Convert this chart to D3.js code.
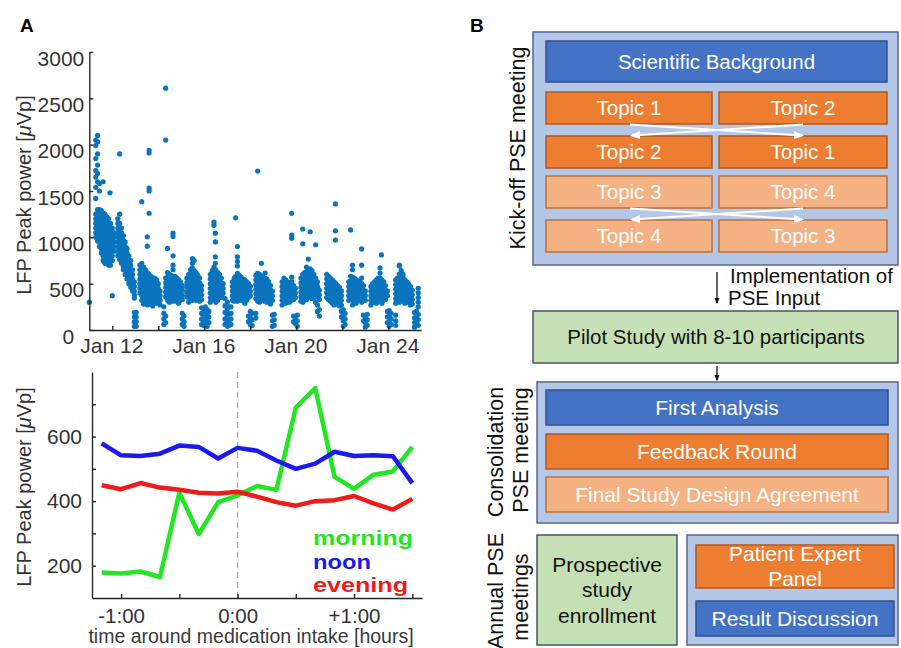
<!DOCTYPE html>
<html><head><meta charset="utf-8">
<script src="https://cdn.jsdelivr.net/npm/d3@7"></script>
<style>
body{margin:0;background:#fff}
svg{display:block}
text{font-family:"Liberation Sans",Arial,Helvetica,sans-serif}
</style>
</head><body>
<svg id="fig" width="901" height="648"></svg>
<script>
// ---------------- Panel A (top): LFP peak power per day, columns [day, values] ----------------
const jan11 = [
 [11.00, [300]],
 [11.28, [2050, 1990, 1850, 1720, 1650, 1540, 1420, 1250, 1200, 1150, 1100, 1050, 1000]],
 [11.36, [2100, 2030, 1900, 1780, 1690, 1600, 1300, 1260, 1210, 1160, 1110, 1060, 1010, 960]],
 [11.44, [1580, 1500, 1300, 1250, 1200, 1150, 1100, 1050, 1000, 950, 900]],
 [11.52, [1290, 1240, 1190, 1140, 1090, 1040, 990, 940, 880, 830]],
 [11.60, [1600, 1260, 1210, 1160, 1110, 1060, 1010, 960, 910, 860, 800, 750]],
 [11.68, [1250, 1200, 1150, 1100, 1050, 1000, 950, 900, 850, 790, 720]],
 [11.76, [1220, 1170, 1120, 1070, 1020, 970, 920, 870, 820, 770]],
 [11.84, [1200, 1150, 1100, 1050, 1000, 950, 900, 850, 800, 740, 700]],
 [11.90, [1480]],
 [11.92, [1150, 1100, 1050, 1000, 950, 900, 850, 800, 750, 700]],
 [12.00, [1100, 1050, 1000, 950, 900, 850, 800, 750, 370]],
 [12.08, [1050, 1000, 950, 900, 850]]
];
const jan12 = [
 [12.24, [1200, 1150, 1100, 1050, 1000, 950, 900, 850, 800]],
 [12.32, [1900, 1250, 1150, 1100, 1050, 1000, 950, 900, 850, 800, 760]],
 [12.40, [1100, 1050, 1000, 950, 900, 850, 800, 760, 720]],
 [12.48, [1020, 970, 920, 870, 820, 770, 720, 680, 650]],
 [12.56, [950, 900, 850, 800, 750, 700, 650, 600]],
 [12.64, [880, 830, 780, 730, 680, 630, 590, 550]],
 [12.72, [800, 750, 700, 650, 600, 550, 500]],
 [12.80, [750, 700, 650, 600, 550, 500, 460]],
 [12.88, [650, 600, 550, 500, 460, 420]],
 [12.96, [520, 470, 420, 380, 345, 190, 140, 90, 40]],
 [13.04, [190, 140, 90, 40]]
];
const jan13 = [
 [13.20, [700, 650, 600, 550, 500, 450, 400]],
 [13.28, [1385, 720, 670, 620, 570, 520, 470, 420, 370, 320]],
 [13.36, [680, 630, 580, 530, 480, 430, 380, 330, 280]],
 [13.44, [650, 600, 550, 500, 450, 400, 350, 300]],
 [13.52, [1005, 905, 620, 570, 520, 470, 420, 370, 320, 270]],
 [13.60, [1940, 1910, 1530, 1500, 1260, 600, 550, 500, 450, 400, 350, 300]],
 [13.68, [580, 530, 480, 430, 380, 330, 280]],
 [13.76, [560, 510, 460, 410, 360, 310, 260]],
 [13.84, [560, 500, 450, 400, 350, 300]],
 [13.92, [540, 480, 430, 380, 330, 290]],
 [14.00, [500, 450, 400, 350, 300]],
 [14.08, [420, 370, 320, 270]]
];
const jan14 = [
 [14.24, [250, 180, 120, 60]],
 [14.32, [2610, 2050, 560, 510, 460, 410, 360, 150, 80]],
 [14.40, [880, 620, 570, 520, 470, 420, 370, 320]],
 [14.48, [600, 550, 500, 450, 400, 350, 300]],
 [14.56, [590, 540, 490, 440, 390, 340]],
 [14.64, [1045, 1010, 800, 700, 650, 560, 510, 460, 410, 360, 310]],
 [14.72, [580, 530, 480, 430, 380, 330]],
 [14.80, [560, 510, 460, 410, 360, 310]],
 [14.88, [540, 490, 440, 390, 340, 290]],
 [14.96, [520, 470, 420, 370, 320]],
 [15.04, [480, 430, 380, 330, 180, 120, 60]],
 [15.12, [150, 90, 40]]
];
const jan15 = [
 [15.24, [560, 510, 460, 410, 360]],
 [15.32, [600, 550, 500, 450, 400, 350, 300]],
 [15.40, [650, 600, 550, 500, 450, 400, 350]],
 [15.48, [770, 720, 670, 620, 570, 520, 470, 420, 370, 320]],
 [15.56, [750, 640, 590, 540, 490, 440, 390, 340]],
 [15.64, [620, 570, 520, 470, 420, 370, 320]],
 [15.72, [590, 540, 490, 440, 390, 340]],
 [15.80, [560, 510, 460, 410, 360, 310]],
 [15.88, [480, 430, 380, 330, 240, 180, 120, 60]],
 [15.96, [230, 170, 110, 50]],
 [16.04, [250, 190, 130, 70]],
 [16.12, [220, 160, 100, 40]],
 [16.20, [200, 140, 80]]
];
const jan16 = [
 [16.26, [600, 550, 500, 450, 400, 350, 300]],
 [16.34, [640, 590, 540, 490, 440, 390, 340]],
 [16.42, [1165, 1130, 680, 630, 580, 530, 480, 430, 380, 330]],
 [16.48, [1045, 950, 790, 720]],
 [16.50, [650, 600, 550, 500, 450, 400, 350, 300]],
 [16.58, [620, 570, 520, 470, 420, 370, 320]],
 [16.66, [600, 550, 500, 450, 400, 350]],
 [16.74, [560, 510, 460, 410, 360]],
 [16.82, [500, 450, 400, 350]],
 [16.90, [340, 260, 190, 120, 60]],
 [17.00, [300, 230, 160, 90, 40]],
 [17.08, [250, 180, 110, 50]]
];
const jan17 = [
 [17.16, [250, 180, 120, 60]],
 [17.22, [520, 470, 420, 370, 320]],
 [17.30, [560, 510, 460, 410, 360, 310]],
 [17.36, [1210, 580, 530, 480, 430, 380, 330]],
 [17.44, [900, 790, 740, 690, 610, 560, 510, 460, 410, 360, 310]],
 [17.52, [590, 540, 490, 440, 390, 340]],
 [17.60, [570, 520, 470, 420, 370, 320]],
 [17.68, [550, 500, 450, 400, 350]],
 [17.76, [540, 490, 440, 390, 340, 290]],
 [17.84, [520, 470, 420, 370, 320]],
 [17.92, [500, 450, 400, 350, 150, 90]],
 [18.00, [470, 420, 370, 200, 130, 60]],
 [18.08, [180, 110, 50]]
];
const jan18 = [
 [18.24, [590, 540, 490, 440, 390, 340, 180, 130]],
 [18.32, [1715, 610, 560, 510, 460, 410, 360, 310]],
 [18.40, [600, 550, 500, 450, 400, 350, 300]],
 [18.48, [720, 580, 530, 480, 430, 380, 330]],
 [18.56, [570, 520, 470, 420, 370, 320]],
 [18.64, [615, 560, 510, 460, 410, 360, 310]],
 [18.72, [550, 500, 450, 400, 350, 300]],
 [18.80, [520, 470, 420, 370, 320]],
 [18.88, [480, 430, 380, 330, 280]],
 [18.96, [420, 370, 320, 160, 100, 40]],
 [19.04, [170, 110, 50]]
];
const jan19 = [
 [19.38, [520, 470, 420, 370, 320, 270]],
 [19.46, [560, 510, 460, 410, 360, 310]],
 [19.54, [540, 490, 440, 390, 340, 290]],
 [19.62, [520, 470, 420, 370, 320]],
 [19.70, [500, 450, 400, 350, 300]],
 [19.80, [1260, 1025, 990, 570, 520, 470, 420, 370, 320]],
 [19.88, [480, 430, 380, 330, 150, 90]],
 [19.96, [450, 400, 350, 130, 70]],
 [20.04, [160, 100, 40]]
];
const jan20 = [
 [20.20, [560, 510, 460, 410, 360, 310]],
 [20.28, [1090, 930, 600, 550, 500, 450, 400, 350, 300]],
 [20.36, [620, 570, 520, 470, 420, 370, 320]],
 [20.44, [680, 630, 580, 530, 480, 430, 380, 330]],
 [20.52, [765, 655, 600, 550, 500, 450, 400, 350]],
 [20.60, [1060, 660, 610, 560, 510, 460, 410, 360]],
 [20.68, [640, 590, 540, 490, 440, 390, 340]],
 [20.76, [600, 550, 500, 450, 400, 350]],
 [20.84, [920, 560, 510, 460, 410, 360, 300]],
 [20.92, [520, 470, 420, 370, 270, 200]],
 [21.00, [430, 380, 330, 220, 150]]
];
const jan21 = [
 [21.32, [600, 550, 500, 450, 400, 350]],
 [21.40, [580, 530, 480, 430, 380, 330]],
 [21.48, [560, 510, 460, 410, 360, 310]],
 [21.56, [540, 490, 440, 390, 340, 290]],
 [21.64, [520, 470, 420, 370, 320, 270]],
 [21.70, [1360, 1070, 970]],
 [21.72, [500, 450, 400, 350, 300]],
 [21.80, [480, 430, 380, 330, 280]],
 [21.88, [460, 410, 360, 310, 260]],
 [21.96, [420, 370, 320, 270, 200, 140]],
 [22.04, [220, 160, 100, 40]],
 [22.12, [180, 120, 60]]
];
const jan22 = [
 [22.28, [520, 470, 420, 370, 320]],
 [22.36, [1080, 580, 530, 480, 430, 380, 330]],
 [22.44, [700, 650, 570, 520, 470, 420, 370, 320, 270]],
 [22.52, [560, 510, 460, 410, 360, 310]],
 [22.60, [540, 490, 440, 390, 340, 290]],
 [22.68, [530, 480, 430, 380, 330]],
 [22.76, [520, 470, 420, 370, 320]],
 [22.84, [875, 700, 560, 500, 450, 400, 350, 300]],
 [22.92, [480, 430, 380, 330, 160, 100]],
 [23.00, [420, 370, 320, 140, 80, 30]],
 [23.08, [170, 110, 50]]
];
const jan23 = [
 [23.24, [470, 420, 370, 320, 270]],
 [23.32, [500, 450, 400, 350, 300]],
 [23.40, [520, 470, 420, 370, 320]],
 [23.48, [540, 490, 440, 390, 340, 290]],
 [23.56, [560, 510, 460, 410, 360, 310]],
 [23.64, [670, 615, 560, 510, 460, 410, 360]],
 [23.70, [810]],
 [23.72, [540, 490, 440, 390, 340, 290]],
 [23.80, [520, 470, 420, 370, 320]],
 [23.88, [480, 430, 380, 330]],
 [23.96, [420, 370, 200, 140, 80]],
 [24.04, [210, 150, 90, 40]],
 [24.12, [180, 120, 60]]
];
const jan24 = [
 [24.32, [540, 490, 440, 390, 340, 290, 160, 100, 50]],
 [24.40, [560, 510, 460, 410, 360, 310]],
 [24.48, [700, 690, 600, 550, 500, 450, 400, 350, 300]],
 [24.56, [640, 590, 540, 490, 440, 390, 340]],
 [24.64, [600, 560, 510, 460, 410, 360, 310]],
 [24.72, [540, 490, 440, 390, 340, 290]],
 [24.80, [520, 470, 420, 370, 320]],
 [24.88, [500, 450, 400, 350, 300]],
 [24.96, [470, 420, 370, 320, 270]],
 [25.04, [430, 380, 330, 280]],
 [25.14, [190, 130, 80, 30]],
 [25.22, [200, 140, 80]],
 [25.30, [450, 400, 350, 300, 250, 170, 110, 50]]
];
const topYTicks = [0, 500, 1000, 1500, 2000, 2500, 3000];
const topXTicks = [12, 14, 16, 18, 20, 22, 24];
const topXLabels = ["Jan 12", "", "Jan 16", "", "Jan 20", "", "Jan 24"];

// ---------------- Panel A (bottom): average around medication intake ----------------
const minutes = [-70, -60, -50, -40, -30, -20, -10, 0, 10, 20, 30, 40, 50, 60, 70, 80, 90];
const morning = [179, 176, 182, 165, 426, 298, 397, 418, 447, 435, 690, 750, 475, 438, 482, 492, 568];
const noon    = [579, 542, 540, 547, 572, 568, 532, 565, 556, 526, 500, 516, 553, 540, 542, 539, 456];
const evening = [449, 437, 456, 442, 435, 426, 424, 429, 414, 397, 386, 400, 403, 416, 393, 374, 407];
const seriesNames = ["morning", "noon", "evening"];
const seriesColors = ["#22e622", "#1a1af0", "#f01a1a"];
const botXTicks = [-60, -30, 0, 30, 60, 90];
const botXLabels = ["-1:00", "", "0:00", "", "+1:00", ""];
const botYTicks = [200, 300, 400, 500, 600, 700];
const botYLabels = ["200", "", "400", "", "600", ""];

// ---------------- Panel B: study design ----------------
const kickoffTopics = [["Topic 1", "Topic 2"], ["Topic 2", "Topic 1"], ["Topic 3", "Topic 4"], ["Topic 4", "Topic 3"]];
const consolidationItems = ["First Analysis", "Feedback Round", "Final Study Design Agreement"];
const annualLeft = ["Prospective", "study", "enrollment"];
const annualRight = [["Patient Expert", "Panel"], ["Result Discussion"]];

const svg = d3.select("#fig");
const ink = "#262626";

// ===== Top scatter =====
const xTop = d3.scaleLinear().domain([11, 25.42]).range([89.3, 421]);
const yTop = d3.scaleLinear().domain([0, 3000]).range([330, 52]);
const pts = [];
[jan11, jan12, jan13, jan14, jan15, jan16, jan17, jan18, jan19, jan20, jan21, jan22, jan23, jan24]
  .forEach(day => day.forEach(([d, vals]) => vals.forEach(v => pts.push([d, v]))));
svg.append("g").selectAll("circle").data(pts).join("circle")
  .attr("cx", d => xTop(d[0])).attr("cy", d => yTop(d[1]))
  .attr("r", 2.6).attr("fill", "#0a74bd");

const gyT = svg.append("g").attr("transform", "translate(89.3,0)").attr("color", ink)
  .call(d3.axisLeft(yTop).tickValues(topYTicks).tickFormat(d3.format("d")).tickSize(-4).tickSizeOuter(0).tickPadding(5));
gyT.selectAll("text").attr("font-size", 21).attr("dy", "0.62em").attr("fill", "#333");
gyT.selectAll("text").filter(d => d === 0).attr("dx", -10);
gyT.selectAll("path,line").attr("stroke-width", 1.4);
const gxT = svg.append("g").attr("transform", "translate(0,330)").attr("color", ink)
  .call(d3.axisBottom(xTop).tickValues(topXTicks).tickFormat((d, i) => topXLabels[i]).tickSize(-4).tickSizeOuter(0).tickPadding(8));
gxT.selectAll("text").attr("font-size", 21).attr("dx", -1).attr("fill", "#333");
gxT.selectAll("path,line").attr("stroke-width", 1.4);

function yTitle(x, y, size) {
  const t = svg.append("text").attr("transform", `translate(${x},${y}) rotate(-90)`)
    .attr("text-anchor", "middle").attr("font-size", size).attr("fill", "#333");
  t.append("tspan").text("LFP Peak power [");
  t.append("tspan").attr("font-style", "italic").text("\u03bc");
  t.append("tspan").text("Vp]");
}
yTitle(31, 195, 20);

// ===== Bottom lines =====
const xBot = d3.scaleLinear().domain([-75, 95]).range([92, 422]);
const yBot = d3.scaleLinear().domain([100, 800]).range([598, 372]);
svg.append("line").attr("x1", xBot(0)).attr("x2", xBot(0)).attr("y1", yBot(800)).attr("y2", yBot(100))
  .attr("stroke", "#aaa").attr("stroke-width", 1.3).attr("stroke-dasharray", "6,4");

const gyB = svg.append("g").attr("transform", "translate(92,0)").attr("color", ink)
  .call(d3.axisLeft(yBot).tickValues(botYTicks).tickFormat((d, i) => botYLabels[i]).tickSize(-4).tickSizeOuter(0).tickPadding(10));
gyB.selectAll("text").attr("font-size", 21).attr("fill", "#333");
gyB.selectAll("path,line").attr("stroke-width", 1.4);
const gxB = svg.append("g").attr("transform", "translate(0,598)").attr("color", ink)
  .call(d3.axisBottom(xBot).tickValues(botXTicks).tickFormat((d, i) => botXLabels[i]).tickSize(-4).tickSizeOuter(0).tickPadding(10));
gxB.selectAll("text").attr("font-size", 20.5).attr("fill", "#333");
gxB.selectAll("path,line").attr("stroke-width", 1.4);

const line = d3.line().x((d, i) => xBot(minutes[i])).y(d => yBot(d));
[morning, noon, evening].forEach((s, k) => {
  svg.append("path").datum(s).attr("d", line).attr("fill", "none")
    .attr("stroke", seriesColors[k]).attr("stroke-width", 4.5).attr("stroke-linejoin", "round");
});
const legendLen = [100, 58, 95];
seriesNames.forEach((n, k) => {
  svg.append("text").attr("x", 313).attr("y", 545 + k * 23.5).attr("font-size", 20.5).attr("font-weight", "bold")
    .attr("textLength", legendLen[k]).attr("lengthAdjust", "spacingAndGlyphs")
    .attr("fill", seriesColors[k]).text(n);
});
yTitle(31, 487, 20);
svg.append("text").attr("x", 251).attr("y", 643).attr("text-anchor", "middle").attr("font-size", 19.5)
  .attr("fill", "#3a3a3a").text("time around medication intake [hours]");

// panel letters
svg.append("text").attr("x", 20).attr("y", 32).attr("font-size", 19).attr("font-weight", "bold").text("A");
svg.append("text").attr("x", 470).attr("y", 32).attr("font-size", 19).attr("font-weight", "bold").text("B");

// ===== Panel B =====
const col = {blue: "#4472c4", orange: "#ed7d31", lorange: "#f4b183", lblue: "#b4c7e7", green: "#c5e0b4"};
const strokeOf = {blue: "#2f528f", orange: "#ae5a21", lorange: "#b9703f", lblue: "#53668c", green: "#46566e"};
const defs = svg.append("defs");
function marker(id, color) {
  defs.append("marker").attr("id", id).attr("viewBox", "0 0 10 10").attr("refX", 8).attr("refY", 5)
    .attr("markerWidth", 5).attr("markerHeight", 5).attr("orient", "auto")
    .append("path").attr("d", "M0,1 L10,5 L0,9 z").attr("fill", color);
}
marker("wArr", "#fff");
marker("kArr", "#111");

function box(x, y, w, h, key) {
  svg.append("rect").attr("x", x).attr("y", y).attr("width", w).attr("height", h)
    .attr("fill", col[key]).attr("stroke", strokeOf[key]).attr("stroke-width", 1.5);
}
function txt(x, y, s, color, size = 21, anchor = "middle") {
  svg.append("text").attr("x", x).attr("y", y).attr("text-anchor", anchor)
    .attr("font-size", size).attr("fill", color).text(s);
}
function vtxt(x, y, s, size = 21.5) {
  svg.append("text").attr("transform", `translate(${x},${y}) rotate(-90)`).attr("text-anchor", "middle")
    .attr("font-size", size).attr("fill", "#111").text(s);
}

// Kick-off
box(533, 32, 365, 233, "lblue");
box(546, 41, 341, 41, "blue");
txt(716.5, 69, "Scientific Background", "#fff", 20.5);
const rowY = [92, 136, 176, 220];
kickoffTopics.forEach((row, r) => {
  const key = r < 2 ? "orange" : "lorange";
  box(546, rowY[r], 166, 32, key);
  box(719, rowY[r], 168, 32, key);
  txt(629, rowY[r] + 23, row[0], "#fff", 20.5);
  txt(803, rowY[r] + 23, row[1], "#fff", 20.5);
});
[[124, 136], [208, 220]].forEach(([a, b]) => {
  svg.append("line").attr("x1", 630).attr("y1", a + 0.5).attr("x2", 802).attr("y2", b - 0.5)
    .attr("stroke", "#fff").attr("stroke-width", 2).attr("marker-end", "url(#wArr)");
  svg.append("line").attr("x1", 803).attr("y1", a + 0.5).attr("x2", 632).attr("y2", b - 0.5)
    .attr("stroke", "#fff").attr("stroke-width", 2).attr("marker-end", "url(#wArr)");
});
vtxt(525, 148, "Kick-off PSE meeting");

// implementation arrow
svg.append("line").attr("x1", 717).attr("x2", 717).attr("y1", 272).attr("y2", 303)
  .attr("stroke", "#111").attr("stroke-width", 1.3).attr("marker-end", "url(#kArr)");
txt(730, 283, "Implementation of", "#111", 20.5, "start");
txt(728, 305, "PSE Input", "#111", 20.5, "start");

// pilot
box(533, 311, 365, 52, "green");
txt(716, 344, "Pilot Study with 8-10 participants", "#111", 20.5);
svg.append("line").attr("x1", 717).attr("x2", 717).attr("y1", 366).attr("y2", 380)
  .attr("stroke", "#111").attr("stroke-width", 1.3).attr("marker-end", "url(#kArr)");

// consolidation
box(537, 382, 361, 141, "lblue");
const consKeys = ["blue", "orange", "lorange"];
const consY = [390, 434, 477];
consolidationItems.forEach((s, i) => {
  box(546, consY[i], 342, 35, consKeys[i]);
  txt(717, consY[i] + 25, s, "#fff", 21);
});
vtxt(503, 452, "Consolidation");
vtxt(528, 450, "PSE meeting");

// annual
vtxt(503, 591, "Annual PSE");
vtxt(528, 597, "meetings");
box(537, 535, 140, 110, "green");
annualLeft.forEach((s, i) => txt(607, [572, 597, 623][i], s, "#111", 21));
box(687, 535, 211, 110, "lblue");
box(696, 545, 198, 43, "orange");
txt(795, 561, annualRight[0][0], "#fff", 21);
txt(795, 586, annualRight[0][1], "#fff", 21);
box(696, 601, 198, 35, "blue");
txt(795, 626, annualRight[1][0], "#fff", 21);
</script>
</body></html>
